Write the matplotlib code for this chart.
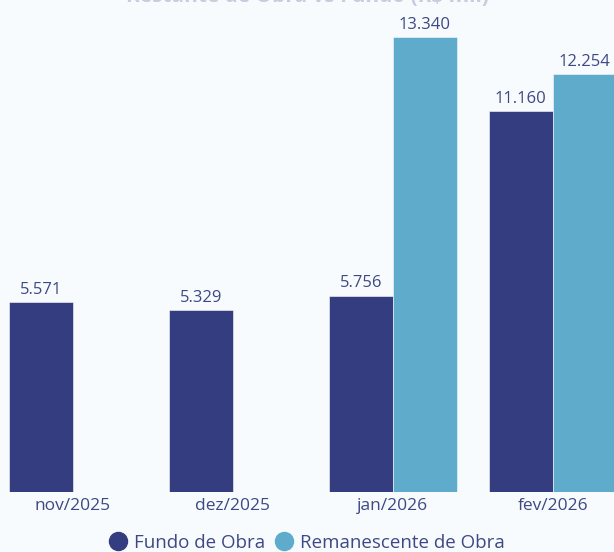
import numpy as np
import matplotlib
matplotlib.use('Agg')
import matplotlib.pyplot as plt
from matplotlib.lines import Line2D

meses = ['nov/2025', 'dez/2025', 'jan/2026', 'fev/2026']
fundo = [5571, 5329, 5756, 11160]
remanescente = [0, 0, 13340, 12254]
titulo = 'Restante de Obra vs Fundo (R$ mil)'

cor_fundo = '#343D80'
cor_rem = '#5EABCC'
cor_texto = '#3E4884'
bg = '#F8FBFE'

plt.rcParams['font.family'] = ['Open Sans', 'DejaVu Sans']


def fmt(v):
    return '{:,.0f}'.format(v).replace(',', '.')


def main():
    fig = plt.figure(figsize=(6.14, 5.52), dpi=100, facecolor=bg)
    ax = fig.add_axes([0, 60 / 552, 1, 492 / 552])
    ax.set_facecolor(bg)

    x = np.arange(len(meses))
    w = 0.4
    b1 = ax.bar(x - w / 2, fundo, w, color=cor_fundo, edgecolor=bg, linewidth=0.4)
    b2 = ax.bar(x + w / 2, remanescente, w, color=cor_rem, edgecolor=bg, linewidth=0.4)

    for bars, vals in ((b1, fundo), (b2, remanescente)):
        for rect, v in zip(bars, vals):
            if v <= 0:
                continue
            ax.annotate(fmt(v), (rect.get_x() + rect.get_width() / 2, v),
                        xytext=(0, 3), textcoords='offset points',
                        ha='center', va='bottom', fontsize=12, color=cor_texto)

    ax.set_xlim(-0.456, 3.382)
    ax.set_ylim(0, 14424)
    ax.set_xticks(x)
    ax.set_xticklabels(meses, fontsize=12.5, color=cor_texto)
    ax.tick_params(axis='x', length=0, pad=4)
    ax.set_yticks([])
    for s in ax.spines.values():
        s.set_visible(False)

    # titulo cortado no topo, como no original
    fig.text(0.5, 1.0 + 4 / 552, titulo, ha='center', va='center', fontsize=15,
             fontweight='bold', color='#C8CCDD')

    handles = [Line2D([], [], marker='o', ls='', color=cor_fundo, markersize=13),
               Line2D([], [], marker='o', ls='', color=cor_rem, markersize=13)]
    fig.legend(handles, ['Fundo de Obra', 'Remanescente de Obra'],
               loc='center', bbox_to_anchor=(0.5, 9 / 552), ncol=2, frameon=False,
               fontsize=13.5, labelcolor=cor_texto, handletextpad=0.35,
               columnspacing=0.5, handlelength=1.0)

    fig.savefig('out.png', dpi=100, facecolor=bg)


if __name__ == '__main__':
    main()
